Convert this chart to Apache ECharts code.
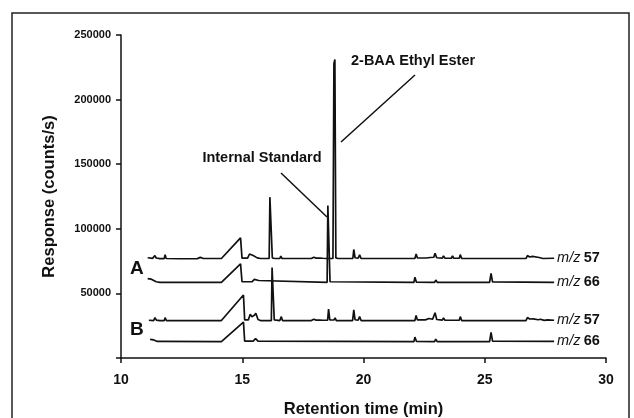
<!DOCTYPE html>
<html><head><meta charset="utf-8">
<script src="https://cdn.jsdelivr.net/npm/echarts@6/dist/echarts.min.js"></script>
<style>html,body{margin:0;padding:0;background:#fff}#c{width:634px;height:418px}</style>
</head><body><div id="c"></div>
<script>
// Axis ticks
const xTicks = [10, 15, 20, 25, 30];
const yTicks = [0, 50000, 100000, 150000, 200000, 250000];

// Trace A, m/z 57  [retention time (min), response (counts/s)]
const traceA57 = [[11.1,77600],[11.3,77100],[11.36,77200],[11.4,79300],[11.45,77400],[11.6,76900],[11.78,76900],[11.82,80000],[11.86,77000],[12.4,76800],[13.15,76900],[13.27,77900],[13.4,77000],[14.14,77000],[14.93,93000],[14.99,77300],[15.22,77300],[15.3,80500],[15.38,79000],[15.45,79300],[15.53,80300],[15.62,77500],[15.75,77000],[16.11,77000],[16.14,124500],[16.2,125000],[16.24,77400],[16.35,77000],[16.55,77000],[16.59,78800],[16.64,77000],[17.85,77000],[17.95,78000],[18.05,77300],[18.2,77400],[18.25,78300],[18.32,77200],[18.48,77000],[18.74,77000],[18.78,228000],[18.82,231000],[18.86,77500],[18.95,77000],[19.56,77000],[19.6,84000],[19.65,77600],[19.78,77200],[19.84,79800],[19.9,77000],[20.38,77000],[20.44,78500],[20.5,77000],[20.98,77000],[21.02,78000],[21.08,77000],[21.62,77000],[21.68,78200],[21.74,77000],[22.12,77000],[22.17,80500],[22.22,77500],[22.6,77400],[22.75,77800],[22.9,78000],[22.95,81000],[23.02,77600],[23.25,77300],[23.3,79000],[23.36,77200],[23.62,77200],[23.67,79000],[23.72,77200],[23.95,77200],[23.99,80000],[24.05,77000],[24.85,77000],[24.89,77800],[24.95,77000],[25.6,77000],[25.65,77700],[25.7,77000],[26.7,77000],[26.76,79300],[26.85,78200],[26.97,78600],[27.05,77500],[27.24,77800],[27.4,77000],[27.86,77200]];

// Trace A, m/z 66
const traceA66 = [[11.1,61500],[11.25,61000],[11.45,59000],[11.6,58600],[13.75,58600],[13.83,59300],[13.9,58600],[14.14,58600],[14.93,72800],[14.99,59000],[15.4,59000],[15.5,60800],[15.58,59500],[15.68,60000],[15.75,58600],[18.5,58600],[18.53,118000],[18.58,119000],[18.62,59000],[18.7,58600],[22.08,58600],[22.12,62500],[22.18,58800],[22.93,58600],[22.98,60300],[23.04,58600],[25.2,58600],[25.26,65500],[25.32,58900],[27.86,58600]];

// Trace B, m/z 57
const traceB57 = [[11.15,29200],[11.35,29000],[11.4,31300],[11.46,29300],[11.6,28900],[11.78,28900],[11.82,31200],[11.87,29000],[12.4,28900],[13.2,28900],[13.27,29900],[13.35,29000],[14.14,29000],[15.05,48800],[15.1,29500],[15.25,29500],[15.33,33800],[15.4,32000],[15.5,33000],[15.56,34600],[15.65,29800],[15.75,29000],[16.2,29000],[16.23,70000],[16.28,71000],[16.32,29500],[16.4,29000],[16.55,29000],[16.61,32000],[16.66,29000],[17.85,29000],[17.95,30000],[18.05,29300],[18.2,29400],[18.25,30400],[18.32,29200],[18.52,29200],[18.56,37800],[18.61,29500],[18.78,29400],[18.83,31000],[18.88,29000],[19.55,29000],[19.6,37200],[19.65,29600],[19.78,29200],[19.84,32000],[19.9,29000],[20.38,29000],[20.44,30500],[20.5,29000],[20.98,29000],[21.02,30000],[21.08,29000],[21.62,29000],[21.68,30200],[21.74,29000],[22.12,29000],[22.17,33000],[22.22,29500],[22.55,29500],[22.7,30600],[22.85,30000],[22.95,35000],[23.02,29800],[23.25,29300],[23.3,31000],[23.36,29200],[23.5,29200],[23.55,30500],[23.6,29200],[23.95,29200],[23.99,32000],[24.05,29000],[24.85,29000],[24.89,29800],[24.95,29000],[25.6,29000],[25.65,29700],[25.7,29000],[26.7,29000],[26.76,31300],[26.85,30200],[27.0,30300],[27.2,29600],[27.3,30000],[27.45,29100],[27.6,29500],[27.86,29200]];

// Trace B, m/z 66
const traceB66 = [[11.2,14400],[11.35,14000],[11.5,12800],[14.14,12700],[15.05,27800],[15.1,13000],[15.45,13000],[15.55,15000],[15.65,13000],[22.08,12700],[22.12,16200],[22.18,12900],[22.93,12700],[22.98,14500],[23.04,12700],[25.2,12700],[25.26,19800],[25.32,13000],[27.86,12800]];

const traceNames = ['A57', 'A66', 'B57', 'B66'];
const traceMz = ['57', '66', '57', '66'];

const chart = echarts.init(document.getElementById('c'), null, {renderer: 'canvas'});
const FONT = '"Liberation Sans", Arial, sans-serif';
const traces = [traceA57, traceA66, traceB57, traceB66];

const series = traces.map((d, i) => ({
  name: traceNames[i],
  type: 'line',
  data: d,
  symbol: 'none',
  sampling: null,
  lineStyle: {color: '#111', width: 1.7},
  endLabel: {
    show: true,
    distance: 3,
    formatter: () => '{i|m/z} {b|' + traceMz[i] + '}',
    rich: {
      i: {fontFamily: FONT, fontStyle: 'italic', fontSize: 14.5, color: '#111'},
      b: {fontFamily: FONT, fontWeight: 'bold', fontSize: 14.5, color: '#111'}
    }
  },
  z: 3
}));

chart.setOption({
  animation: false,
  backgroundColor: '#fff',
  grid: {left: 121, right: 28, top: 35, bottom: 60, containLabel: false, outerBoundsMode: 'none'},
  xAxis: {
    type: 'value', min: xTicks[0], max: xTicks[xTicks.length - 1], interval: 5,
    name: 'Retention time (min)', nameLocation: 'middle', nameGap: 43,
    nameTextStyle: {fontFamily: FONT, fontWeight: 'bold', fontSize: 16.5, color: '#111'},
    axisLine: {lineStyle: {color: '#111', width: 1.5}},
    axisTick: {show: true, length: 5, lineStyle: {color: '#111', width: 1.5}},
    axisLabel: {margin: 15, fontFamily: FONT, fontWeight: 'bold', fontSize: 14, color: '#111'},
    splitLine: {show: false}
  },
  yAxis: {
    type: 'value', min: yTicks[0], max: yTicks[yTicks.length - 1], interval: 50000,
    name: 'Response (counts/s)', nameLocation: 'middle', nameGap: 63,
    nameTextStyle: {fontFamily: FONT, fontWeight: 'bold', fontSize: 16.5, color: '#111'},
    axisLine: {show: true, lineStyle: {color: '#111', width: 1.5}},
    axisTick: {show: true, length: 5, lineStyle: {color: '#111', width: 1.5}},
    axisLabel: {margin: 10, fontFamily: FONT, fontWeight: 'bold', fontSize: 11, color: '#111',
      formatter: v => v === 0 ? '' : String(v)},
    splitLine: {show: false}
  },
  series: series,
  graphic: [
    {type: 'rect', shape: {x: 12, y: 13, width: 617, height: 420}, style: {fill: 'none', stroke: '#222', lineWidth: 1.5}, z: 0},
    {type: 'text', left: 130, top: 259, style: {text: 'A', font: 'bold 19px ' + FONT, fill: '#111'}},
    {type: 'text', left: 130, top: 320, style: {text: 'B', font: 'bold 19px ' + FONT, fill: '#111'}},
    {type: 'text', x: 262, y: 158, style: {text: 'Internal Standard', font: 'bold 14.5px ' + FONT, fill: '#111', align: 'center', verticalAlign: 'middle'}},
    {type: 'text', x: 351, y: 61, style: {text: '2-BAA Ethyl Ester', font: 'bold 14.5px ' + FONT, fill: '#111', align: 'left', verticalAlign: 'middle'}},
    {type: 'line', shape: {x1: 281, y1: 173, x2: 327, y2: 217}, style: {stroke: '#111', lineWidth: 1.5}},
    {type: 'line', shape: {x1: 415, y1: 75, x2: 341, y2: 142}, style: {stroke: '#111', lineWidth: 1.5}}
  ]
});
</script></body></html>
